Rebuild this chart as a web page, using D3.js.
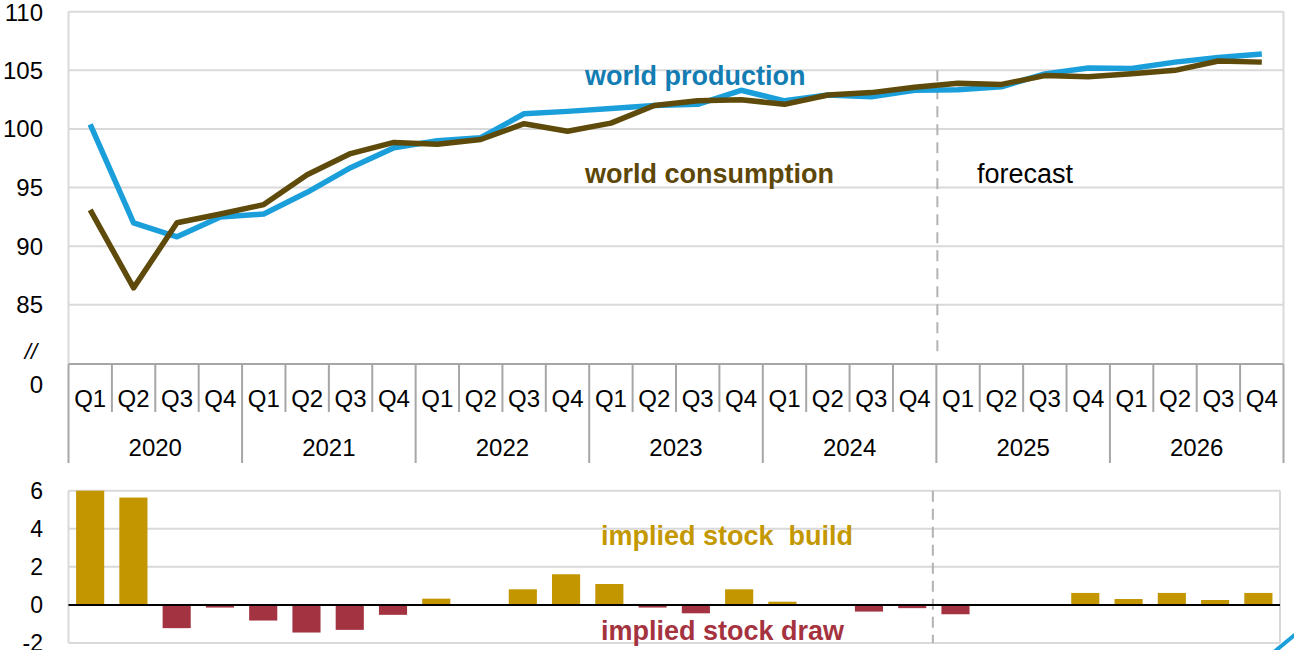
<!DOCTYPE html>
<html>
<head>
<meta charset="utf-8">
<script src="https://cdn.jsdelivr.net/npm/d3@7"></script>
<style>
  html, body { margin: 0; padding: 0; background: #ffffff; }
  svg { display: block; }
  text { font-family: "Liberation Sans", Arial, sans-serif; }
</style>
</head>
<body>
<svg id="chart" width="1294" height="650"></svg>
<script>
// ---- data ----
const years = ["2020", "2021", "2022", "2023", "2024", "2025", "2026"];
const quarters = ["Q1", "Q2", "Q3", "Q4"];
const production = [100.4, 92.0, 90.8, 92.5, 92.75, 94.6, 96.7, 98.4,
                    99.0, 99.25, 101.3, 101.5, 101.75, 102.0, 102.1, 103.3,
                    102.4, 102.9, 102.75, 103.3, 103.35, 103.6, 104.7, 105.2,
                    105.15, 105.7, 106.1, 106.4];
const consumption = [93.1, 86.45, 92.0, 92.75, 93.55, 96.1, 97.9, 98.85,
                     98.7, 99.1, 100.45, 99.8, 100.5, 102.0, 102.4, 102.5,
                     102.1, 102.9, 103.1, 103.55, 103.9, 103.8, 104.55, 104.45,
                     104.7, 105.0, 105.8, 105.7];
const stockChange = [6.0, 5.64, -1.22, -0.14, -0.82, -1.45, -1.31, -0.52,
                     0.33, 0.0, 0.82, 1.61, 1.10, -0.14, -0.44, 0.82,
                     0.17, -0.05, -0.35, -0.17, -0.49, -0.03, 0.0, 0.63,
                     0.31, 0.63, 0.26, 0.63];
const topTicks = [85, 90, 95, 100, 105, 110];
const bottomTicks = [-2, 0, 2, 4, 6];
const forecastStart = "2025-Q1";

// ---- build ----
const periods = [];
years.forEach(y => quarters.forEach(q => periods.push(y + "-" + q)));

const svg = d3.select("#chart");
const gridColor = "#d9d9d9";
const tickColor = "#a6a6a6";
const blue = "#1a9fdb";
const brown = "#5e4a0a";
const gold = "#c39600";
const red = "#a33341";

// scales
const xTop = d3.scaleBand().domain(periods).range([68.5, 1283.5]).padding(0);
const yTop = d3.scaleLinear().domain([80, 110]).range([363.5, 11.7]);
const xBot = d3.scaleBand().domain(periods).range([68.5, 1280]).paddingInner(0.35).paddingOuter(0.175);
const xBotFull = d3.scaleBand().domain(periods).range([68.5, 1280]).padding(0);
const yBot = d3.scaleLinear().domain([-2, 6]).range([643, 490.7]);

// ===== TOP CHART =====
const gTop = svg.append("g");
gTop.selectAll("line.grid").data(topTicks).join("line")
  .attr("x1", xTop.range()[0]).attr("x2", xTop.range()[1])
  .attr("y1", d => yTop(d)).attr("y2", d => yTop(d))
  .attr("stroke", gridColor).attr("stroke-width", 2);
[xTop.range()[0], xTop.range()[1]].forEach(x => {
  gTop.append("line").attr("x1", x).attr("x2", x)
    .attr("y1", yTop(110)).attr("y2", yTop(80))
    .attr("stroke", gridColor).attr("stroke-width", 2);
});
gTop.selectAll("text.yl").data(topTicks).join("text")
  .attr("x", 43).attr("y", d => yTop(d) + (d === 110 ? 1 : 0))
  .attr("text-anchor", "end").attr("dominant-baseline", "central")
  .attr("font-size", 24).attr("fill", "#000").text(d => d);
gTop.append("text").attr("x", 43).attr("y", 384)
  .attr("text-anchor", "end").attr("dominant-baseline", "central")
  .attr("font-size", 24).attr("fill", "#000").text("0");
gTop.append("text").attr("x", 37).attr("y", 351)
  .attr("text-anchor", "end").attr("dominant-baseline", "central")
  .attr("font-size", 22).attr("font-style", "italic").attr("fill", "#000").text("//");

// forecast dashed line (top)
const fx = xTop(forecastStart);
gTop.append("line").attr("x1", fx + 1).attr("x2", fx + 1)
  .attr("y1", yTop(105)).attr("y2", 356)
  .attr("stroke", "#b3b3b3").attr("stroke-width", 2)
  .attr("stroke-dasharray", "11,7");

// lines
const line = d3.line()
  .x((d, i) => xTop(periods[i]) + xTop.bandwidth() / 2)
  .y(d => yTop(d));
gTop.append("path").datum(production).attr("d", line)
  .attr("fill", "none").attr("stroke", blue).attr("stroke-width", 5.5)
  .attr("stroke-linejoin", "round");
gTop.append("path").datum(consumption).attr("d", line)
  .attr("fill", "none").attr("stroke", brown).attr("stroke-width", 5.5)
  .attr("stroke-linejoin", "round");

// annotations
gTop.append("text").attr("x", 585).attr("y", 85)
  .attr("font-size", 27).attr("font-weight", "bold").attr("fill", "#137db3")
  .text("world production");
gTop.append("text").attr("x", 585).attr("y", 183)
  .attr("font-size", 27).attr("font-weight", "bold").attr("fill", "#5c4708")
  .text("world consumption");
gTop.append("text").attr("x", 977).attr("y", 183)
  .attr("font-size", 27).attr("fill", "#000")
  .text("forecast");

// ===== X AXIS (two-level) =====
const axY = 364;
const gAxis = svg.append("g");
gAxis.append("line").attr("x1", xTop.range()[0]).attr("x2", xTop.range()[1])
  .attr("y1", axY).attr("y2", axY).attr("stroke", tickColor).attr("stroke-width", 2);
periods.forEach(p => {
  const x = xTop(p);
  const isYear = p.endsWith("Q1");
  gAxis.append("line").attr("x1", x).attr("x2", x)
    .attr("y1", axY).attr("y2", isYear ? 463 : 412)
    .attr("stroke", tickColor).attr("stroke-width", 2);
});
gAxis.append("line").attr("x1", xTop.range()[1]).attr("x2", xTop.range()[1])
  .attr("y1", axY).attr("y2", 463).attr("stroke", tickColor).attr("stroke-width", 2);
gAxis.selectAll("text.q").data(periods).join("text")
  .attr("x", d => xTop(d) + xTop.bandwidth() / 2).attr("y", 398)
  .attr("text-anchor", "middle").attr("dominant-baseline", "central")
  .attr("font-size", 24).attr("fill", "#000")
  .text(d => d.split("-")[1]);
gAxis.selectAll("text.y").data(years).join("text")
  .attr("x", d => xTop(d + "-Q1") + xTop.bandwidth() * 2).attr("y", 447)
  .attr("text-anchor", "middle").attr("dominant-baseline", "central")
  .attr("font-size", 24).attr("fill", "#000")
  .text(d => d);

// ===== BOTTOM CHART =====
const gBot = svg.append("g");
gBot.selectAll("line.grid").data(bottomTicks.filter(d => d !== 0)).join("line")
  .attr("x1", xBot.range()[0]).attr("x2", xBot.range()[1])
  .attr("y1", d => yBot(d)).attr("y2", d => yBot(d))
  .attr("stroke", gridColor).attr("stroke-width", 2);
[xBot.range()[0], xBot.range()[1]].forEach(x => {
  gBot.append("line").attr("x1", x).attr("x2", x)
    .attr("y1", yBot(6)).attr("y2", yBot(-2))
    .attr("stroke", gridColor).attr("stroke-width", 2);
});
gBot.selectAll("text.yl").data(bottomTicks).join("text")
  .attr("x", 43).attr("y", d => yBot(d))
  .attr("text-anchor", "end").attr("dominant-baseline", "central")
  .attr("font-size", 23).attr("fill", "#000").text(d => d);

const fxb = xBotFull(forecastStart);
gBot.append("line").attr("x1", fxb - 1).attr("x2", fxb - 1)
  .attr("y1", yBot(6)).attr("y2", yBot(-2))
  .attr("stroke", "#b3b3b3").attr("stroke-width", 2)
  .attr("stroke-dasharray", "11,7");

gBot.selectAll("rect.bar").data(stockChange).join("rect")
  .attr("x", (d, i) => xBot(periods[i]))
  .attr("width", xBot.bandwidth())
  .attr("y", d => yBot(Math.max(0, d)))
  .attr("height", d => Math.abs(yBot(d) - yBot(0)))
  .attr("fill", d => d >= 0 ? gold : red);

gBot.append("line").attr("x1", xBot.range()[0]).attr("x2", xBot.range()[1])
  .attr("y1", yBot(0)).attr("y2", yBot(0))
  .attr("stroke", "#000").attr("stroke-width", 2);

gBot.append("text").attr("x", 601).attr("y", 545)
  .attr("font-size", 27).attr("font-weight", "bold").attr("fill", "#c49800")
  .style("white-space", "pre")
  .text("implied stock  build");
gBot.append("text").attr("x", 601).attr("y", 640)
  .attr("font-size", 27).attr("font-weight", "bold").attr("fill", "#a5333f")
  .text("implied stock draw");

svg.append("line").attr("x1", 1274).attr("y1", 652).attr("x2", 1297).attr("y2", 633)
  .attr("stroke", blue).attr("stroke-width", 4);
</script>
</body>
</html>
